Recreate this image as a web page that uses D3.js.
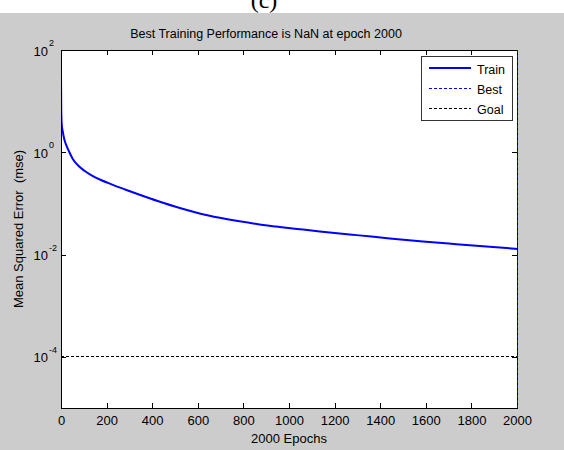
<!DOCTYPE html>
<html>
<head>
<meta charset="utf-8">
<script src="https://cdn.jsdelivr.net/npm/d3@7"></script>
<style>
  html, body { margin: 0; padding: 0; background: #ffffff; }
  svg { display: block; }
  text { font-family: Arial, "Liberation Sans", sans-serif; fill: #000; }
</style>
</head>
<body>
<svg id="chart" width="564" height="450"></svg>
<script>
// ---- data ----
const epochs = [0, 1, 3, 8, 15, 24, 37, 51, 73, 103, 132, 175, 219, 278, 351, 424, 521, 608, 696, 783, 871, 959, 1047, 1135, 1222, 1296, 1442, 1587, 1734, 1880, 2000];
const trainMse = [36.2, 7.3, 3.6, 2.5, 1.75, 1.35, 1.0, 0.75, 0.564, 0.436, 0.359, 0.287, 0.2388, 0.1897, 0.1445, 0.1114, 0.0813, 0.0638, 0.0525, 0.0447, 0.0389, 0.0347, 0.0313, 0.0283, 0.0258, 0.0240, 0.0207, 0.0181, 0.0160, 0.0142, 0.0129];
const bestEpoch = 2000;
const goalMse = 1e-4;
const xTicks = [0, 200, 400, 600, 800, 1000, 1200, 1400, 1600, 1800, 2000];
const yTickExps = [2, 0, -2, -4];
const legendLabels = ["Train", "Best", "Goal"];
const titleText = "Best Training Performance is NaN at epoch 2000";
const xLabelText = "2000 Epochs";
const yLabelText = "Mean Squared Error  (mse)";
const panelLabel = "(c)";

// ---- layout ----
const svg = d3.select("#chart");
const L = 61, R = 517, T = 50, B = 408;

const x = d3.scaleLinear().domain([0, 2000]).range([L, R]);
const y = d3.scaleLog().domain([1e-5, 1e2]).range([B, T]);

// panel label (partially hidden by figure background, as in the source)
svg.append("text").attr("x", 264).attr("y", 8).attr("text-anchor", "middle")
  .style("font-family", "'Liberation Serif', 'Times New Roman', serif")
  .style("font-size", "24px").text(panelLabel);

// figure background
svg.append("rect").attr("x", 0).attr("y", 13).attr("width", 564).attr("height", 437).attr("fill", "#cccccc");

// axes background
svg.append("rect").attr("x", L).attr("y", T).attr("width", R - L).attr("height", B - T).attr("fill", "#ffffff");

// title
svg.append("text").attr("x", 266).attr("y", 38).attr("text-anchor", "middle")
  .style("font-size", "12.5px").text(titleText);

// clip
svg.append("clipPath").attr("id", "clip").append("rect")
  .attr("x", L).attr("y", T).attr("width", R - L).attr("height", B - T);

// goal line
svg.append("line").attr("x1", L).attr("x2", R).attr("y1", y(goalMse)).attr("y2", y(goalMse))
  .attr("stroke", "#000").attr("stroke-width", 1).attr("stroke-dasharray", "3,2")
  .attr("shape-rendering", "crispEdges");

// train curve
const pts = epochs.map((e, i) => [e, trainMse[i]]);
svg.append("path").datum(pts)
  .attr("clip-path", "url(#clip)")
  .attr("fill", "none").attr("stroke", "#0000ff").attr("stroke-width", 2)
  .attr("d", d3.line().x(d => x(d[0])).y(d => y(d[1])).curve(d3.curveMonotoneX));

// axes ticks (inward)
const gB = svg.append("g").attr("transform", `translate(0,${B})`)
  .call(d3.axisBottom(x).tickValues(xTicks).tickSize(-5).tickPadding(8).tickFormat(d3.format("d")));
const gT = svg.append("g").attr("transform", `translate(0,${T})`)
  .call(d3.axisTop(x).tickValues(xTicks).tickSize(-5).tickFormat(""));
const yTickVals = yTickExps.map(e => Math.pow(10, e));
const gL = svg.append("g").attr("transform", `translate(${L},0)`)
  .call(d3.axisLeft(y).tickValues(yTickVals).tickSize(-5).tickFormat(""));
const gR = svg.append("g").attr("transform", `translate(${R},0)`)
  .call(d3.axisRight(y).tickValues(yTickVals).tickSize(-5).tickFormat(""));
[gB, gT, gL, gR].forEach(g => {
  g.select(".domain").remove();
  g.selectAll("line").attr("stroke", "#000").attr("shape-rendering", "crispEdges");
  g.selectAll("text").style("font-size", "13px").style("font-family", "Arial, 'Liberation Sans', sans-serif").attr("fill", "#000");
});

// axes box
svg.append("rect").attr("x", L).attr("y", T).attr("width", R - L).attr("height", B - T)
  .attr("fill", "none").attr("stroke", "#000").attr("stroke-width", 1).attr("shape-rendering", "crispEdges");

// best line (vertical dashed blue at best epoch)
svg.append("line").attr("x1", x(bestEpoch)).attr("x2", x(bestEpoch)).attr("y1", T).attr("y2", B)
  .attr("stroke", "#0000ff").attr("stroke-width", 1).attr("stroke-dasharray", "3,2")
  .attr("shape-rendering", "crispEdges");

// y tick labels 10^n
yTickExps.forEach(e => {
  svg.append("text").attr("x", 48).attr("y", y(Math.pow(10, e)) + 5.5)
    .attr("text-anchor", "end").style("font-size", "13px").text("10");
  svg.append("text").attr("x", 49).attr("y", y(Math.pow(10, e)) - 4)
    .style("font-size", "9px").text(String(e));
});

// axis labels
svg.append("text").attr("x", 289).attr("y", 443).attr("text-anchor", "middle")
  .style("font-size", "13px").text(xLabelText);
svg.append("text").attr("transform", `translate(23,229) rotate(-90)`).attr("text-anchor", "middle")
  .style("font-size", "13px").style("white-space", "pre").text(yLabelText);

// legend
const lg = svg.append("g");
lg.append("rect").attr("x", 421).attr("y", 56).attr("width", 91).attr("height", 64)
  .attr("fill", "#fff").attr("stroke", "#333").attr("stroke-width", 1).attr("shape-rendering", "crispEdges");
const legStyles = [
  {color: "#0000ff", dash: null, w: 2},
  {color: "#0000ff", dash: "3,2", w: 1},
  {color: "#000000", dash: "3,2", w: 1}
];
legendLabels.forEach((lab, i) => {
  const cy = 68 + i * 20;
  lg.append("line").attr("x1", 429).attr("x2", 471).attr("y1", cy).attr("y2", cy)
    .attr("stroke", legStyles[i].color).attr("stroke-width", legStyles[i].w)
    .attr("stroke-dasharray", legStyles[i].dash).attr("shape-rendering", "crispEdges");
  lg.append("text").attr("x", 477).attr("y", cy + 6).style("font-size", "12.5px").text(lab);
});
</script>
</body>
</html>
